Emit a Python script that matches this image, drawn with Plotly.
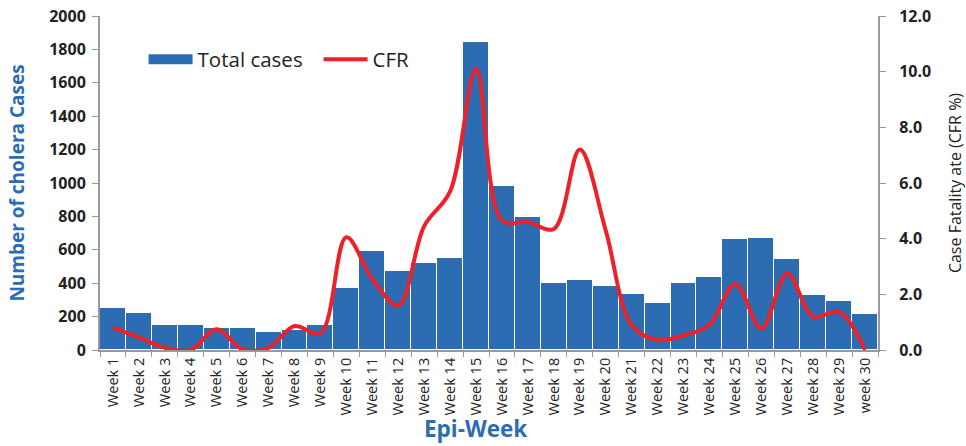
import plotly.graph_objects as go

weeks = [f"Week {i}" for i in range(1, 30)] + ["week 30"]
total_cases = [250, 220, 152, 152, 132, 132, 110, 118, 147, 372,
               594, 475, 518, 548, 1845, 985, 795, 400, 421, 384,
               336, 281, 400, 439, 663, 671, 542, 328, 295, 214]
cfr = [0.8, 0.45, 0.08, 0.0, 0.75, 0.02, 0.08, 0.86, 0.6, 4.05,
       2.55, 1.6, 4.45, 5.7, 10.1, 4.65, 4.6, 4.35, 7.2, 4.3,
       0.9, 0.36, 0.52, 0.9, 2.38, 0.77, 2.75, 1.2, 1.37, 0.0]
left_ticks = list(range(0, 2001, 200))
right_ticks = [0, 2, 4, 6, 8, 10, 12]

BLUE = "#2B6CB3"
RED = "#EE2128"
FONT = "Open Sans"

fig = go.Figure()
fig.add_trace(go.Bar(
    x=weeks, y=total_cases, name="Total cases", showlegend=False,
    marker=dict(color=BLUE, line=dict(color="white", width=1)),
    yaxis="y",
))
# legend-only entry to show a wide rectangle key like the original
fig.add_trace(go.Scatter(
    x=[None], y=[None], name="Total cases", mode="lines",
    line=dict(color=BLUE, width=11), yaxis="y",
))
fig.add_trace(go.Scatter(
    x=weeks, y=cfr, name="CFR", mode="lines",
    line=dict(color=RED, width=4, shape="spline", smoothing=1.0),
    yaxis="y2",
))

fig.update_layout(
    width=966, height=446,
    margin=dict(l=100, r=88, t=16, b=96, autoexpand=False),
    paper_bgcolor="white", plot_bgcolor="white",
    font=dict(family=FONT, color="#222222"),
    bargap=0.0,
    showlegend=True,
    legend=dict(orientation="h", x=0.056, y=0.87, xanchor="left", yanchor="middle",
                font=dict(size=20.5, color="#222222"), bgcolor="rgba(0,0,0,0)",
                itemwidth=44, entrywidth=116, entrywidthmode="pixels", traceorder="normal"),
    xaxis=dict(
        type="category", tickangle=-90, automargin=False,
        tickfont=dict(size=14.5, color="#222222"),
        showline=True, linecolor="#999999", linewidth=2,
        ticks="outside", tickcolor="#999999", ticklen=5, tickson="boundaries",
        showgrid=False,
    ),
    yaxis=dict(
        range=[0, 2000], automargin=False, ticklabeloverflow="allow",
        tickvals=left_ticks, ticktext=[f"<b>{v}</b>" for v in left_ticks],
        tickfont=dict(size=16, color="#222222"), ticklabelstandoff=3,
        showline=True, linecolor="#999999", linewidth=2,
        ticks="outside", tickcolor="#999999", ticklen=6,
        showgrid=False, zeroline=False,
        title=dict(text="<b>Number of cholera Cases</b>", font=dict(size=19, color=BLUE), standoff=20),
    ),
    yaxis2=dict(
        range=[0, 12], overlaying="y", side="right", automargin=False, ticklabeloverflow="allow",
        tickvals=right_ticks, ticktext=[f"<b>{v:.1f}</b>" for v in right_ticks],
        tickfont=dict(size=16, color="#222222"), ticklabelstandoff=10,
        showline=True, linecolor="#999999", linewidth=2,
        ticks="outside", tickcolor="#999999", ticklen=6,
        showgrid=False, zeroline=False,
        title=dict(text="Case Fatality ate (CFR %)", font=dict(size=16, color="#222222"), standoff=30),
    ),
    annotations=[dict(
        text="<b>Epi-Week</b>", xref="paper", yref="paper", x=0.483, y=-0.2874,
        xanchor="center", yanchor="bottom", showarrow=False,
        font=dict(size=22.5, color=BLUE, family=FONT),
    )],
)

# remove the default 8px page margin so the figure sits exactly in the window
fig.write_html("out.html", config={"displayModeBar": False},
               post_script="document.body.style.margin='0px';")
